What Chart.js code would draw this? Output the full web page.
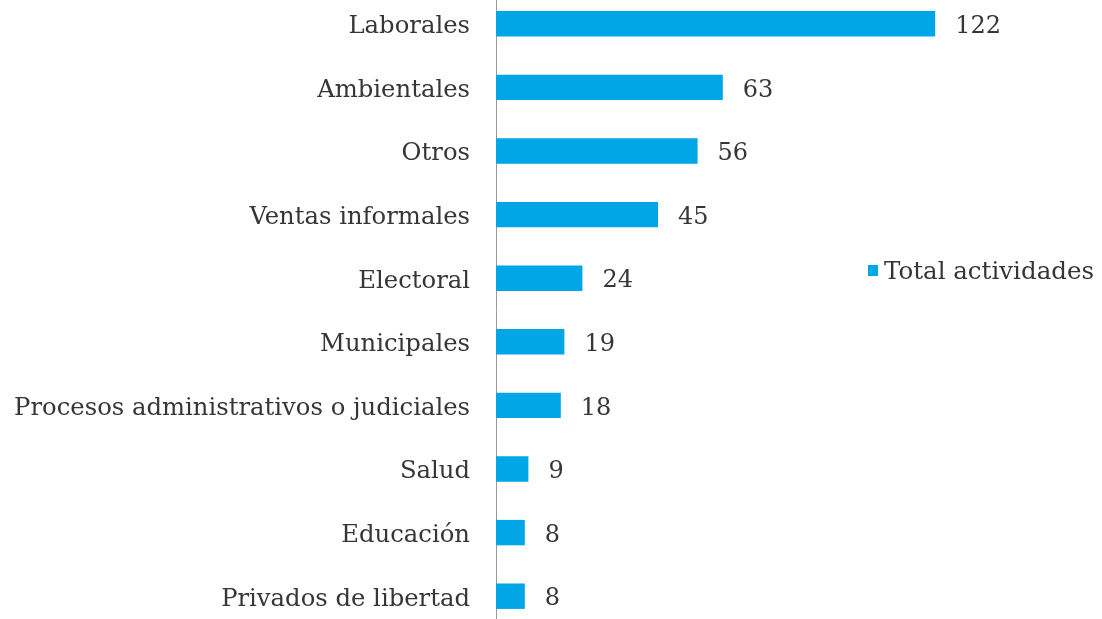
<!DOCTYPE html>
<html>
<head>
<meta charset="utf-8">
<script src="https://cdn.jsdelivr.net/npm/chart.js@4.4.0/dist/chart.umd.min.js"></script>
<style>
  html, body { margin: 0; padding: 0; background: #fff; overflow: hidden; }
  #wrap { position: absolute; left: 0; top: -8px; width: 1102px; height: 636px; }
</style>
</head>
<body>
<div id="wrap"><canvas id="c"></canvas></div>
<script>
const categories = [
  'Laborales',
  'Ambientales',
  'Otros',
  'Ventas informales',
  'Electoral',
  'Municipales',
  'Procesos administrativos o judiciales',
  'Salud',
  'Educación',
  'Privados de libertad'
];
const totals = [122, 63, 56, 45, 24, 19, 18, 9, 8, 8];
const seriesName = 'Total actividades';

const FONT = "'DejaVu Serif', serif";
const TEXT = '#363636';
const BAR = '#00a6e6';

// value printed just past the end of each bar
const valueLabels = {
  id: 'valueLabels',
  afterDatasetsDraw(chart) {
    const { ctx } = chart;
    const meta = chart.getDatasetMeta(0);
    ctx.save();
    ctx.font = '24px ' + FONT;
    ctx.fillStyle = TEXT;
    ctx.textBaseline = 'middle';
    ctx.textAlign = 'left';
    meta.data.forEach((bar, i) => {
      ctx.fillText(String(chart.data.datasets[0].data[i]), bar.x + 20, bar.y + 3);
    });
    ctx.restore();
  }
};

// legend entry floating to the right of the bars
const floatingLegend = {
  id: 'floatingLegend',
  afterDraw(chart) {
    const { ctx } = chart;
    const ds = chart.data.datasets[0];
    const x = 868, y = 279;
    ctx.save();
    ctx.fillStyle = ds.backgroundColor;
    ctx.fillRect(x, y - 6, 10, 11);
    ctx.font = '24.5px ' + FONT;
    ctx.fillStyle = TEXT;
    ctx.textBaseline = 'middle';
    ctx.fillText(ds.label, x + 16, y + 2);
    ctx.restore();
  }
};

new Chart(document.getElementById('c'), {
  type: 'bar',
  data: {
    labels: categories,
    datasets: [{
      label: seriesName,
      data: totals,
      backgroundColor: BAR,
      barPercentage: 0.8,
      categoryPercentage: 0.5
    }]
  },
  options: {
    indexAxis: 'y',
    responsive: true,
    maintainAspectRatio: false,
    animation: false,
    layout: { padding: { top: 0, bottom: 0, left: 0, right: 102 } },
    plugins: { legend: { display: false }, tooltip: { enabled: false } },
    scales: {
      x: { display: false, min: 0, max: 140 },
      y: {
        afterFit(scale) {
          scale.width = 496;
          scale.paddingTop = 0;
          scale.paddingBottom = 0;
        },
        grid: { display: false, drawTicks: true, tickLength: 26 },
        border: { display: true, color: '#9a9a9a', width: 1 },
        ticks: { color: TEXT, font: { family: FONT, size: 24.3 }, padding: 0, labelOffset: 3 }
      }
    }
  },
  plugins: [valueLabels, floatingLegend]
});
</script>
</body>
</html>
